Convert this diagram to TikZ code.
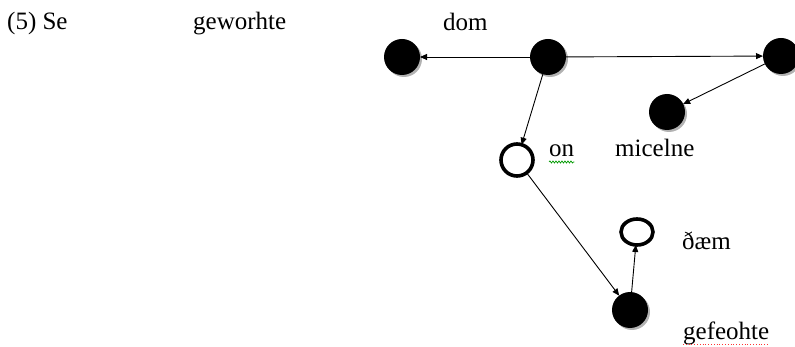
\documentclass[tikz,border=0pt]{standalone}
\usepackage{fontspec}
\setmainfont{Liberation Serif}
\usetikzlibrary{arrows.meta,decorations.pathmorphing}
\begin{document}
\begin{tikzpicture}[x=1pt,y=1pt,
  full/.style={circle,fill=black,minimum size=36pt,inner sep=0pt,outer sep=0pt},
  hollow/.style={circle,draw=black,line width=3.6pt,minimum size=32pt,inner sep=0pt,outer sep=0pt},
  hollowsm/.style={ellipse,draw=black,line width=3.6pt,minimum width=32pt,minimum height=26pt,inner sep=0pt,outer sep=0pt},
  link/.style={line width=0.9pt,-{Triangle[length=7pt,width=6pt]}},
  word/.style={anchor=base west,inner sep=0pt,font=\fontsize{25}{30}\selectfont},
  shade/.style={circle,fill=black!30,minimum size=36pt,inner sep=0pt}
]
\usetikzlibrary{shapes.geometric}
\useasboundingbox (0,0) rectangle (795,-347);
% texts
\node[word] (t1) at (7,-30) {(5) Se};
\node[word] (t2) at (193,-30) {geworhte};
\node[word] (t3) at (443,-31) {dom};
\node[word] (t4) at (549,-157) {on};
\node[word] (t5) at (615,-157) {micelne};
\node[word] (t6) at (682,-250) {ðæm};
\node[word] (t7) at (683,-339) {gefeohte};
% spell-check marks
\draw[green!60!black,line width=0.7pt,decorate,decoration={snake,amplitude=1pt,segment length=3pt}]
  ([yshift=-5pt]t4.base west) -- ([yshift=-5pt]t4.base east);
\draw[red!80,line width=0.8pt,dotted]
  ([yshift=-5pt]t7.base west) -- ([yshift=-5pt]t7.base east);
% shadows
\foreach \p in {(404,-59),(550,-59),(783,-58),(669,-114),(632,-312)}
  \node[shade] at \p {};
% nodes
\node[full] (L) at (402,-57) {};
\node[full] (M) at (548,-57) {};
\node[full] (R) at (781,-56) {};
\node[full] (S) at (667,-112) {};
\node[hollow] (O) at (517,-160) {};
\node[hollowsm] (D) at (637,-232) {};
\node[full] (B) at (630,-310) {};
% connectors
\draw[link] (M) -- (L);
\draw[link] (M) -- (R);
\draw[link] (R) -- (S);
\draw[link] (M) -- (O);
\draw[link] (O) -- (B);
\draw[link] (B) -- (D);
\end{tikzpicture}
\end{document}
